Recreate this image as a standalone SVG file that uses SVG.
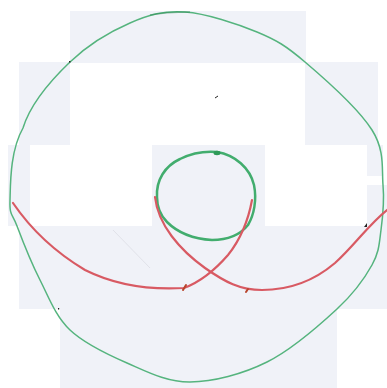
<svg xmlns="http://www.w3.org/2000/svg" width="387" height="388" viewBox="0 0 387 388">
<style>
.tile{fill:#f0f2f8}
.green{fill:none;stroke:#55b47e;stroke-linecap:round;stroke-linejoin:round}
.inner{fill:none;stroke:#42ad6e;stroke-linecap:round;stroke-linejoin:round}
.red{fill:none;stroke:#d85a63;stroke-linecap:round;stroke-linejoin:round}
.mark{fill:#222}
</style>
<rect width="387" height="388" fill="#ffffff"/>
<g id="paper">
<rect class="tile" x="70" y="11" width="236" height="52"/>
<rect class="tile" x="19" y="62" width="51" height="83"/>
<rect class="tile" x="305" y="62" width="73" height="83"/>
<rect class="tile" x="8" y="145" width="22" height="81"/>
<rect class="tile" x="152" y="145" width="113" height="81"/>
<rect class="tile" x="367" y="145" width="16" height="31"/>
<rect class="tile" x="367" y="185" width="20" height="41"/>
<rect class="tile" x="19" y="226" width="368" height="83"/>
<rect class="tile" x="60" y="309" width="277" height="79"/>
</g>
<g id="pencil">
<path d="M113,230 L150,268" stroke="#dcdde4" stroke-width="0.8" fill="none"/>
</g>
<g id="outer-circle">
<path class="green" stroke-width="1.5" d="M10,200 C10.5,183.7 10,151 23,128 C30,105 51.7,79.5 70,62 C88.3,44.5 110.8,31.3 130,23 C149.2,14.7 163.8,10.5 185,12 C206.2,13.5 237,23.7 257,32 C277,40.3 285.8,45.7 305,62 C324.2,78.3 359,109.5 372,130 C385,150.5 381.7,168.8 383,185 C384.5,201.7 382.8,216.7 381,230 C379.2,243.3 379.3,251.8 372,265 C364.7,278.2 354.5,292.8 337,309 C319.5,325.2 291.5,349.8 267,362 C242.5,374.2 213.3,381.8 190,382 C166.7,382.2 147,371.7 127,363 C107,354.3 84.5,343.8 70,330 C55.5,316.2 48.8,297.3 40,280 C31.2,262.7 22,239.3 17,226 C12,212.7 9.5,216.3 10,200 Z"/>
<path d="M150,15 C165,12 175,12 190,12" stroke="#2f8a55" stroke-width="1.3" fill="none" opacity="0.5"/>
</g>
<g id="inner-circle">
<path class="inner" stroke-width="2.5" d="M157,197 C156,180 165,166 180,159 C192,153 205,151 217,152 C235,155 250,168 254,185 C257,200 254,215 248,225 C240,235 228,240 212,240 C195,239 178,233 167,222 C160,215 157,207 157,197 Z"/>
<ellipse cx="217" cy="153" rx="3.5" ry="2.2" fill="#2e9a58"/>
</g>
<g id="red-curves">
<path class="red" stroke-width="2.2" d="M13,203 C30,228 55,252 85,270 C115,285 150,290 184,288 C200,282 215,270 228,255 C240,240 248,222 252,200"/>
<path class="red" stroke-width="2.2" d="M155,197 C158,225 180,250 205,268 C225,282 240,290 262,290 C290,290 315,280 335,263 C355,245 368,225 387,210"/>
<path d="M183,290 L186,285" stroke="#b8452c" stroke-width="2" stroke-linecap="round"/>
<path d="M246,292 L248,289" stroke="#b8452c" stroke-width="2" stroke-linecap="round"/>
</g>
<g id="marks">
<rect class="mark" x="69" y="61" width="1.5" height="1.5"/>
<path d="M215,98 L218,96" stroke="#222" stroke-width="1"/>
<path class="mark" d="M364,227 L367,223 L367,227 Z"/>
<rect class="mark" x="58" y="308" width="1.2" height="1.5"/>
</g>
</svg>
